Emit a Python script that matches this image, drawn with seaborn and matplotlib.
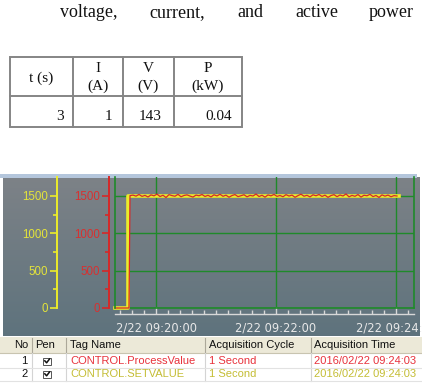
import numpy as np
import pandas as pd
import matplotlib
matplotlib.use("Agg")
import matplotlib.pyplot as plt
from matplotlib.patches import Rectangle
from matplotlib.ticker import MultipleLocator, FixedLocator
import seaborn as sns

W, H = 422, 388

# ---------------- data ----------------
body_words = ["voltage,", "current,", "and", "active", "power"]
table_head_top = ["t (s)", "I", "V", "P"]
table_head_unit = ["", "(A)", "(V)", "(kW)"]
table_row = ["3", "1", "143", "0.04"]

# trend: seconds relative to 2/22 09:20:00
sp_time = [-41, -28, -28, 243]
sp_value = [0, 0, 1500, 1500]
pv_time_start = [-41, -27]
pv_value_start = [0, 0]
pv_time_run = list(range(-26, 244, 3))
pv_value_run = [
    1505, 1512, 1498, 1520, 1495, 1508, 1487, 1515, 1502, 1525,
    1493, 1510, 1480, 1518, 1505, 1497, 1522, 1490, 1507, 1515,
    1499, 1486, 1512, 1503, 1520, 1494, 1509, 1488, 1516, 1501,
    1523, 1496, 1511, 1484, 1506, 1519, 1492, 1504, 1517, 1489,
    1508, 1500, 1526, 1493, 1510, 1485, 1514, 1502, 1521, 1495,
    1507, 1490, 1518, 1499, 1512, 1483, 1505, 1524, 1497, 1509,
    1488, 1516, 1503, 1520, 1494, 1511, 1482, 1506, 1518, 1491,
    1513, 1500, 1527, 1489, 1508, 1496, 1519, 1486, 1510, 1503,
    1522, 1492, 1507, 1481, 1515, 1498, 1512, 1490, 1505, 1500,
]
y_ticks = [0, 500, 1000, 1500]
y_minor = [250, 750, 1250]
x_ticks = [0, 120, 240]
x_tick_labels = ["2/22 09:20:00", "2/22 09:22:00", "2/22 09:24:00"]

columns = ["No", "Pen", "Tag Name", "Acquisition Cycle", "Acquisition Time"]
tag_no = ["1", "2"]
tag_names = ["CONTROL.ProcessValue", "CONTROL.SETVALUE"]
tag_cycles = ["1 Second", "1 Second"]
tag_times = ["2016/02/22 09:24:03", "2016/02/22 09:24:03"]

# ---------------- style ----------------
SERIF = "Liberation Serif"
SANS = "Liberation Sans"
GREEN = "#1f8a2a"
YELLOW = "#ecec2a"
RED = "#d62828"
TXT_RED = "#e8323c"
TXT_YEL = "#c4bd34"

fig = plt.figure(figsize=(W / 100, H / 100), dpi=100)
fig.patch.set_facecolor("white")


def px_axes(x0, y0, x1, y1, **kw):
    return fig.add_axes([x0 / W, 1 - y1 / H, (x1 - x0) / W, (y1 - y0) / H], **kw)


bg = fig.add_axes([0, 0, 1, 1], zorder=0)
bg.axis("off")

# body text line
word_x = [60, 149, 237, 295, 369]
for wx, wtxt in zip(word_x, body_words):
    bg.text(wx, 17.3, wtxt, fontsize=13, family=SERIF, va="baseline", ha="left", color="#111111")

# document table
tc = "#858585"
bg.add_patch(Rectangle((10, 57), 232, 70, fill=False, ec=tc, lw=1.4, zorder=2))
for cx in [73, 123, 174]:
    bg.plot([cx, cx], [57, 127], color=tc, lw=1.4, zorder=2)
bg.plot([10, 242], [96, 96], color=tc, lw=1.4, zorder=2)
head_cx = [41, 98, 148, 208]
for i, (t1, t2) in enumerate(zip(table_head_top, table_head_unit)):
    if t2:
        bg.text(head_cx[i], 68, t1, fontsize=11, family=SERIF, ha="center", va="center", color="#111111")
        bg.text(head_cx[i], 86, t2, fontsize=11, family=SERIF, ha="center", va="center", color="#111111")
    else:
        bg.text(head_cx[i], 78, t1, fontsize=11, family=SERIF, ha="center", va="center", color="#111111")
row_pos = [(64, "right"), (112, "right"), (139, "left"), (232, "right")]
for (rx, ha), val in zip(row_pos, table_row):
    bg.text(rx, 116.5, val, fontsize=11, family=SERIF, ha=ha, va="center", color="#111111")

# screenshot background (gradient)
top_c = np.array([0.49, 0.51, 0.53])
bot_c = np.array([0.37, 0.45, 0.49])
frac = np.linspace(0, 1, 160)[:, None]
grad = (top_c[None, :] * (1 - frac) + bot_c[None, :] * frac)[:, None, :]
bg.imshow(grad, extent=(3, 420, 336, 177), aspect="auto", zorder=1, interpolation="bilinear")
bg.add_patch(Rectangle((0, 174), 417, 4, color="#b4c6dc", zorder=2, lw=0))

# tag table
bg.add_patch(Rectangle((0, 337), 422, 16, color="#ece9d8", zorder=2, lw=0))
bg.plot([0, 422], [353, 353], color="#c8c4b0", lw=0.8, zorder=3)
for cx in [32, 66, 205, 311]:
    bg.plot([cx, cx], [338, 352], color="#aca899", lw=0.8, zorder=3)
    bg.plot([cx, cx], [353, 381], color="#d4d4d4", lw=0.8, zorder=3)
for ry in [368, 381]:
    bg.plot([0, 422], [ry, ry], color="#e2e2e2", lw=0.8, zorder=3)
head_x = [28, 35, 70, 209, 314]
for i, (hx, col) in enumerate(zip(head_x, columns)):
    bg.text(hx, 345.5, col, fontsize=8, family=SANS, ha="right" if i == 0 else "left",
            va="center", color="#111111", zorder=4)
row_y = [361, 374]
row_col = [TXT_RED, TXT_YEL]
for ry, no, nm, cy, tm, c in zip(row_y, tag_no, tag_names, tag_cycles, tag_times, row_col):
    bg.text(27.5, ry, no, fontsize=8, family=SANS, ha="right", va="center", color="#111111", zorder=4)
    bg.add_patch(Rectangle((43, ry - 3.5), 8, 7, fc="white", ec="#555555", lw=0.7, zorder=4))
    bg.plot([44.8, 46.6, 49.5], [ry - 0.2, ry + 1.8, ry - 2.0], color="#111111", lw=1.1, zorder=5)
    bg.text(70, ry, nm, fontsize=8, family=SANS, ha="left", va="center", color=c, zorder=4)
    bg.text(209, ry, cy, fontsize=8, family=SANS, ha="left", va="center", color=c, zorder=4)
    bg.text(314, ry, tm, fontsize=8, family=SANS, ha="left", va="center", color=c, zorder=4)

bg.set_xlim(0, W)
bg.set_ylim(H, 0)

# ---------------- trend plot ----------------
YMAX = 1500 * (308 - 177) / (308 - 196)
ax = px_axes(115, 177, 414, 308, zorder=3)
ax.patch.set_alpha(0)

sp_df = pd.DataFrame({"t": sp_time, "v": sp_value})
pv_df = pd.DataFrame({"t": pv_time_start + pv_time_run, "v": pv_value_start + pv_value_run})
sns.lineplot(data=sp_df, x="t", y="v", ax=ax, color=YELLOW, lw=2.6, estimator=None, sort=False)
sns.lineplot(data=pv_df, x="t", y="v", ax=ax, color=RED, lw=0.9, estimator=None, sort=False)
ax.axhline(0, color=GREEN, lw=1.2, zorder=1)
for ln in ax.lines:
    ln.set_clip_on(False)

ax.set_xlim(-41, 258)
ax.set_ylim(0, YMAX)
ax.set_xlabel("")
ax.set_ylabel("")
ax.set_yticks(y_ticks)
ax.set_yticklabels([])
ax.tick_params(axis="y", length=0)
ax.set_xticks(x_ticks)
ax.set_xticklabels(x_tick_labels)
ax.xaxis.set_minor_locator(MultipleLocator(12))
ax.tick_params(axis="x", which="major", direction="in", length=5, width=1, color="#d8d8d8",
               labelcolor="#e8e8e8", labelsize=8.3, pad=6)
ax.tick_params(axis="x", which="minor", direction="in", length=3, width=1, color="#d8d8d8")
for lab in ax.get_xticklabels():
    lab.set_family(SANS)
ax.grid(True, which="major", color=GREEN, lw=1.0)
ax.set_axisbelow(True)
ax.spines["top"].set_visible(False)
for s in ["left", "right"]:
    ax.spines[s].set_color(GREEN)
    ax.spines[s].set_linewidth(1.2)
ax.spines["bottom"].set_position(("outward", 4))
ax.spines["bottom"].set_color("#d8d8d8")
ax.spines["bottom"].set_linewidth(1.0)


def side_axis(xpix, color, labcolor):
    a = px_axes(xpix, 177, xpix + 1, 308, zorder=3)
    a.patch.set_alpha(0)
    a.set_ylim(0, YMAX)
    a.set_xticks([])
    for s in ["top", "right", "bottom"]:
        a.spines[s].set_visible(False)
    a.spines["left"].set_color(color)
    a.spines["left"].set_linewidth(1.4)
    a.yaxis.set_major_locator(FixedLocator(y_ticks))
    a.yaxis.set_minor_locator(FixedLocator(y_minor))
    a.set_yticklabels([str(v) for v in y_ticks])
    a.tick_params(axis="y", which="major", direction="out", length=5, width=1.2, color=color,
                  labelcolor=labcolor, labelsize=8.3, pad=1.5)
    a.tick_params(axis="y", which="minor", direction="out", length=2.8, width=1.2, color=color)
    for lab in a.get_yticklabels():
        lab.set_family(SANS)
    return a


side_axis(57, YELLOW, "#e4e43a")
side_axis(109, RED, "#d83030")

fig.savefig("out.png", dpi=100, facecolor="white")
